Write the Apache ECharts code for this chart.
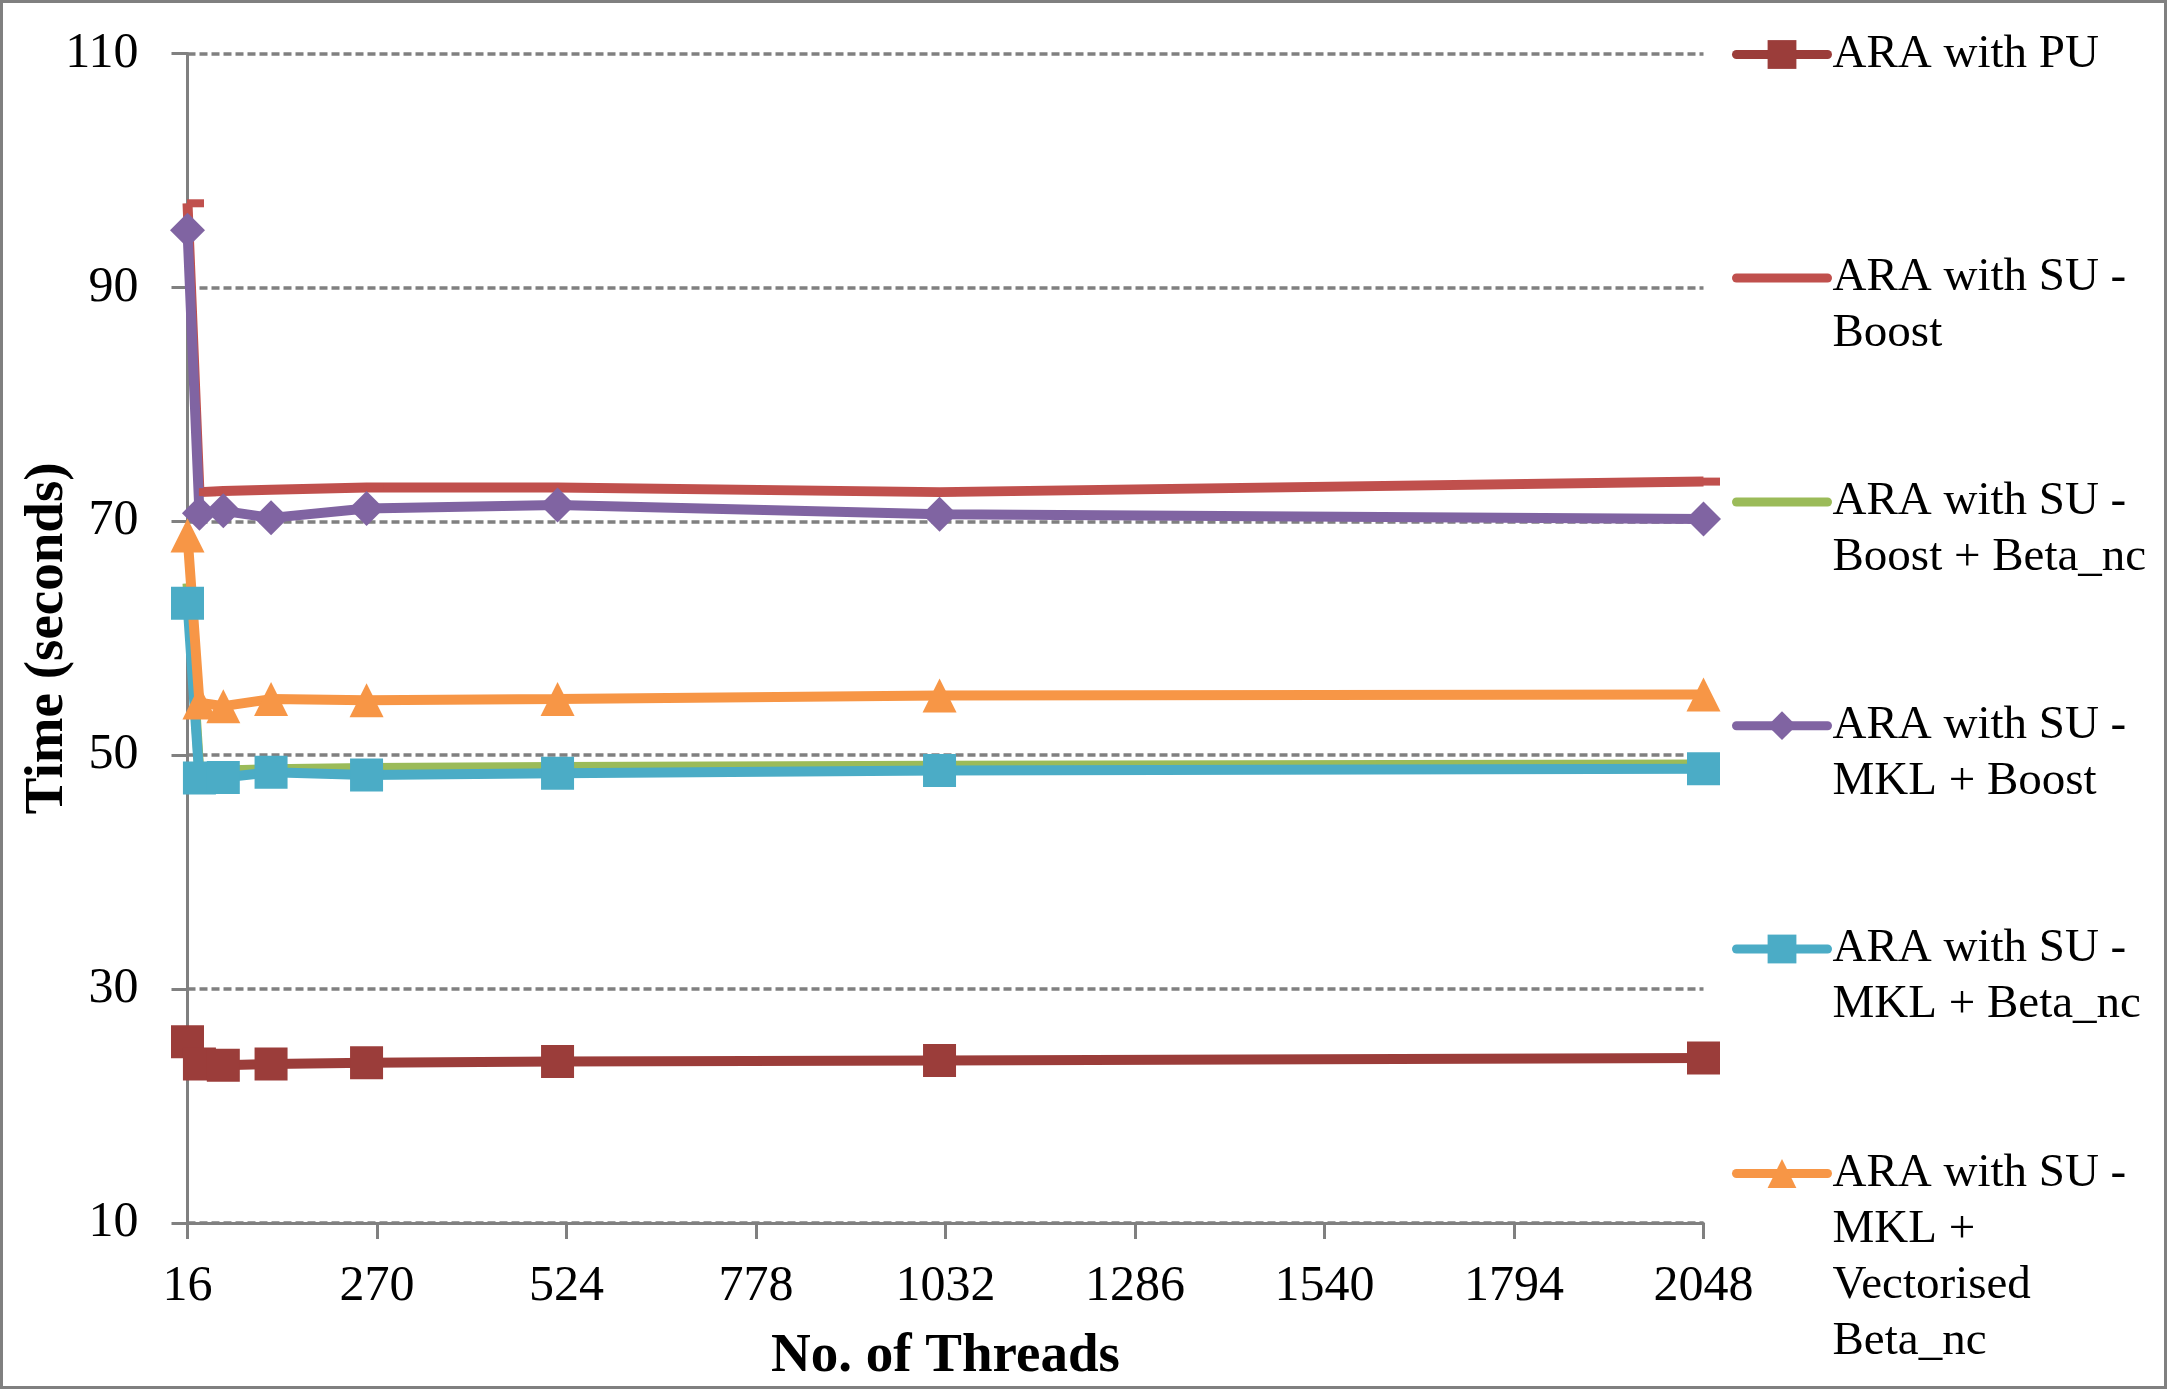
<!DOCTYPE html>
<html>
<head>
<meta charset="utf-8">
<script src="https://cdn.jsdelivr.net/npm/echarts@6.0.0/dist/echarts.min.js"></script>
<style>
  html, body { margin: 0; padding: 0; background: #fff; }
  #chart { width: 2168px; height: 1390px; }
</style>
</head>
<body>
<div id="chart"></div>
<script>
// thread counts on x
var threads = [16, 32, 64, 128, 256, 512, 1024, 2048];
var xTicks = [16, 270, 524, 778, 1032, 1286, 1540, 1794, 2048];
var yTicks = [10, 30, 50, 70, 90, 110];

// times in seconds
var araPU          = [25.5, 23.6, 23.5, 23.6, 23.7, 23.8, 23.9, 24.1];
var suBoost        = [97.2, 72.5, 72.6, 72.7, 72.9, 72.9, 72.5, 73.4];
var suBoostBeta    = [64.7, 48.4, 48.7, 48.8, 48.9, 49.0, 49.1, 49.2];
var suMklBoost     = [94.9, 70.7, 70.9, 70.3, 71.1, 71.4, 70.6, 70.2];
var suMklBeta      = [63.0, 48.05, 48.1, 48.55, 48.3, 48.45, 48.7, 48.85];
var suMklVecBeta   = [68.8, 54.5, 54.2, 54.8, 54.7, 54.8, 55.1, 55.2];

var names = [
  'ARA with PU',
  'ARA with SU - Boost',
  'ARA with SU - Boost + Beta_nc',
  'ARA with SU - MKL + Boost',
  'ARA with SU - MKL + Beta_nc',
  'ARA with SU - MKL + Vectorised Beta_nc'
];
// how the legend wraps each name
var legendText = [
  'ARA with PU',
  'ARA with SU -\nBoost',
  'ARA with SU -\nBoost + Beta_nc',
  'ARA with SU -\nMKL + Boost',
  'ARA with SU -\nMKL + Beta_nc',
  'ARA with SU -\nMKL +\nVectorised\nBeta_nc'
];
var colors = ['#9B3D3A', '#C0504D', '#9BBB59', '#8064A2', '#4BACC6', '#F79646'];
var allValues = [araPU, suBoost, suBoostBeta, suMklBoost, suMklBeta, suMklVecBeta];

var FONT = '"Liberation Serif", "DejaVu Serif", serif';
var GRAY = '#808080';
var LW = 10;

function pairs(vals) {
  return threads.map(function (t, i) { return [t, vals[i]]; });
}

var symbols = [
  { symbol: 'rect', symbolSize: 33 },
  { symbol: 'rect', symbolSize: [17, 8], symbolOffset: [8, 0] },
  { symbol: 'none' },
  { symbol: 'diamond', symbolSize: 35 },
  { symbol: 'rect', symbolSize: 33 },
  { symbol: 'triangle', symbolSize: 34 }
];

var series = names.map(function (n, i) {
  var s = {
    name: n,
    type: 'line',
    data: pairs(allValues[i]),
    lineStyle: { width: LW, color: colors[i] },
    itemStyle: { color: colors[i] },
    symbol: symbols[i].symbol,
    symbolSize: symbols[i].symbolSize || 10
  };
  if (symbols[i].symbolOffset) s.symbolOffset = symbols[i].symbolOffset;
  return s;
});

// icon centre (px) of every legend entry; first text line sits beside it,
// so blank lines are put in front to keep that line in the middle
var legendCentres = [54.5, 278, 502, 725.7, 949, 1173.5];
var LH = 56;
var legends = names.map(function (n, i) {
  var lines = legendText[i].split('\n').length;
  var h = (2 * lines - 1) * LH;
  var txt = new Array(lines).join('\n') + legendText[i];
  var lg = {
    data: [n],
    left: 1732,
    top: legendCentres[i] - h / 2,
    padding: 0,
    itemWidth: 91,
    itemHeight: 36,
    selectedMode: false,
    formatter: function () { return txt; },
    lineStyle: { width: 9, cap: 'round' },
    textStyle: { fontFamily: FONT, fontSize: 47, color: '#000', lineHeight: LH }
  };
  if (i === 1 || i === 2) lg.itemStyle = { opacity: 0 };
  return lg;
});

var chart = echarts.init(document.getElementById('chart'));
chart.setOption({
  backgroundColor: '#fff',
  animation: false,
  grid: { left: 187.5, right: 464.5, top: 53.6, bottom: 167 },
  legend: legends,
  xAxis: {
    type: 'value',
    min: xTicks[0],
    max: xTicks[xTicks.length - 1],
    interval: xTicks[1] - xTicks[0],
    name: 'No. of Threads',
    nameLocation: 'middle',
    nameGap: 106,
    nameMoveOverlap: false,
    nameTextStyle: { fontFamily: FONT, fontSize: 55, fontWeight: 'bold', color: '#000' },
    axisLine: { lineStyle: { color: GRAY, width: 3 } },
    axisTick: { show: true, length: 16, lineStyle: { color: GRAY, width: 3 } },
    axisLabel: {
      fontFamily: FONT, fontSize: 50, color: '#000', margin: 39,
      formatter: function (v) { return String(v); }
    },
    splitLine: { show: false }
  },
  yAxis: {
    type: 'value',
    min: yTicks[0],
    max: yTicks[yTicks.length - 1],
    interval: yTicks[1] - yTicks[0],
    name: 'Time (seconds)',
    nameLocation: 'middle',
    nameGap: 112,
    nameMoveOverlap: false,
    nameTextStyle: { fontFamily: FONT, fontSize: 55, fontWeight: 'bold', color: '#000' },
    axisLine: { show: true, lineStyle: { color: GRAY, width: 3 } },
    axisTick: { show: true, length: 16, lineStyle: { color: GRAY, width: 3 } },
    axisLabel: { fontFamily: FONT, fontSize: 50, color: '#000', margin: 49 },
    splitLine: { show: true, lineStyle: { color: GRAY, width: 3.5, type: [8, 4] } }
  },
  graphic: [{
    type: 'rect',
    shape: { x: 1.5, y: 1.5, width: 2164, height: 1386 },
    style: { fill: 'none', stroke: GRAY, lineWidth: 3 },
    silent: true
  }],
  series: series
});
</script>
</body>
</html>
